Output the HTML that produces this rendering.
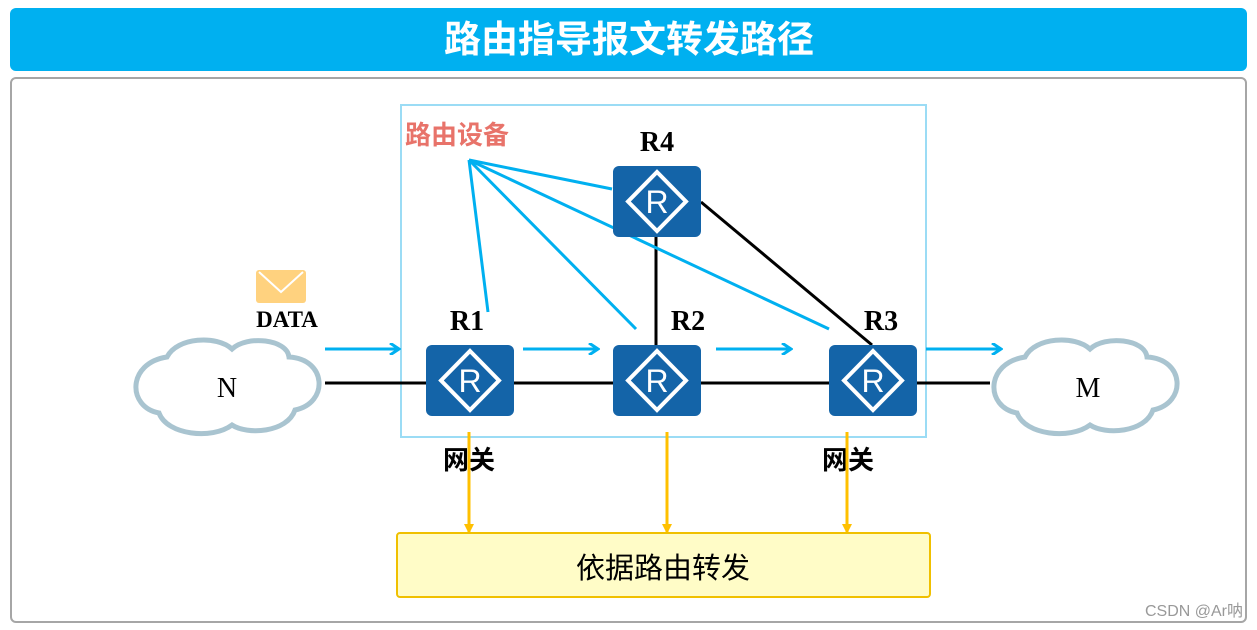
<!DOCTYPE html>
<html><head><meta charset="utf-8"><style>body{margin:0;background:#fff}svg{display:block}</style></head><body>
<svg width="1257" height="630" viewBox="0 0 1257 630" xmlns="http://www.w3.org/2000/svg">
<defs>
<marker id="ab" markerWidth="12" markerHeight="12" refX="9" refY="6" orient="auto" markerUnits="userSpaceOnUse"><path d="M1,0 L10,6 L1,12" fill="none" stroke="#00b0f0" stroke-width="3"/></marker>
<marker id="ay" markerWidth="10" markerHeight="10" refX="9" refY="5" orient="auto" markerUnits="userSpaceOnUse"><path d="M0,0 L10,5 L0,10z" fill="#ffc000"/></marker>
<g id="rt"><rect x="0" y="0" width="88" height="71" rx="6" fill="#1464a8"/><path d="M44,6 L73,35.5 L44,65 L15,35.5Z" fill="none" stroke="#fff" stroke-width="4"/><text x="44" y="47" font-family="Liberation Sans,sans-serif" font-size="32" fill="#fff" text-anchor="middle">R</text></g>
<g id="cl"><path d="M-60,-28 C-50,-48 -10,-50 5,-36 C20,-50 60,-46 62,-28 C100,-26 102,18 68,25 C60,48 20,50 5,40 C-15,55 -60,50 -68,28 C-100,22 -100,-22 -60,-28Z" fill="#fff" stroke="#a9c4d0" stroke-width="5"/></g>
</defs>
<rect x="10" y="8" width="1237" height="63" rx="6" fill="#00b0f0"/>
<text x="629" y="52" font-family="Liberation Sans,'Noto Sans CJK SC',sans-serif" font-size="37" font-weight="bold" fill="#fff" text-anchor="middle">路由指导报文转发路径</text>
<rect x="11" y="78" width="1235" height="544" rx="5" fill="#fff" stroke="#a6a6a6" stroke-width="2"/>
<rect x="401" y="105" width="525" height="332" fill="none" stroke="#9bdcf5" stroke-width="2"/>
<line x1="325" y1="383" x2="990" y2="383" stroke="#000" stroke-width="3"/>
<line x1="656" y1="237" x2="656" y2="345" stroke="#000" stroke-width="3"/>
<line x1="701" y1="202" x2="872" y2="345" stroke="#000" stroke-width="3"/>
<g stroke="#00b0f0" stroke-width="3" fill="none">
<line x1="469" y1="160" x2="488" y2="312"/><line x1="469" y1="160" x2="612" y2="189"/><line x1="469" y1="160" x2="636" y2="329"/><line x1="469" y1="160" x2="829" y2="329"/>
<line x1="325" y1="349" x2="398" y2="349" marker-end="url(#ab)"/><line x1="523" y1="349" x2="597" y2="349" marker-end="url(#ab)"/><line x1="716" y1="349" x2="790" y2="349" marker-end="url(#ab)"/><line x1="926" y1="349" x2="1000" y2="349" marker-end="url(#ab)"/>
</g>
<use href="#rt" x="426" y="345"/><use href="#rt" x="613" y="345"/><use href="#rt" x="829" y="345"/><use href="#rt" x="613" y="166"/>
<use href="#cl" x="227" y="385"/><use href="#cl" x="1085" y="385"/>
<g font-family="Liberation Serif,serif" font-size="28" fill="#000" text-anchor="middle">
<text x="227" y="397">N</text><text x="1088" y="397">M</text></g>
<g font-family="Liberation Serif,serif" font-size="28" font-weight="bold" fill="#000" text-anchor="middle">
<text x="467" y="330">R1</text><text x="688" y="330">R2</text><text x="881" y="330">R3</text><text x="657" y="151">R4</text></g>
<text x="287" y="327" font-family="Liberation Serif,serif" font-size="23" font-weight="bold" text-anchor="middle">DATA</text>
<rect x="256" y="270" width="50" height="33" rx="3" fill="#ffd27f"/><path d="M259,272 L281,292 L303,272" fill="none" stroke="#fff" stroke-width="2"/>
<text x="405" y="144" font-family="Liberation Sans,'Noto Sans CJK SC',sans-serif" font-size="26" font-weight="bold" fill="#e8736a">路由设备</text>
<g font-family="Liberation Sans,'Noto Sans CJK SC',sans-serif" font-size="26" font-weight="bold" text-anchor="middle">
<text x="469" y="469">网关</text><text x="848" y="469">网关</text></g>
<g stroke="#ffc000" stroke-width="3">
<line x1="469" y1="432" x2="469" y2="533" marker-end="url(#ay)"/><line x1="667" y1="432" x2="667" y2="533" marker-end="url(#ay)"/><line x1="847" y1="432" x2="847" y2="533" marker-end="url(#ay)"/></g>
<rect x="397" y="533" width="533" height="64" rx="3" fill="#fffcc7" stroke="#f0c000" stroke-width="2"/>
<text x="663" y="578" font-family="Liberation Sans,'Noto Sans CJK SC',sans-serif" font-size="29" text-anchor="middle">依据路由转发</text>
<text x="1243" y="616" font-family="Liberation Sans,'Noto Sans CJK SC',sans-serif" font-size="16" fill="#999" text-anchor="end">CSDN @Ar呐</text>
</svg>
</body></html>
